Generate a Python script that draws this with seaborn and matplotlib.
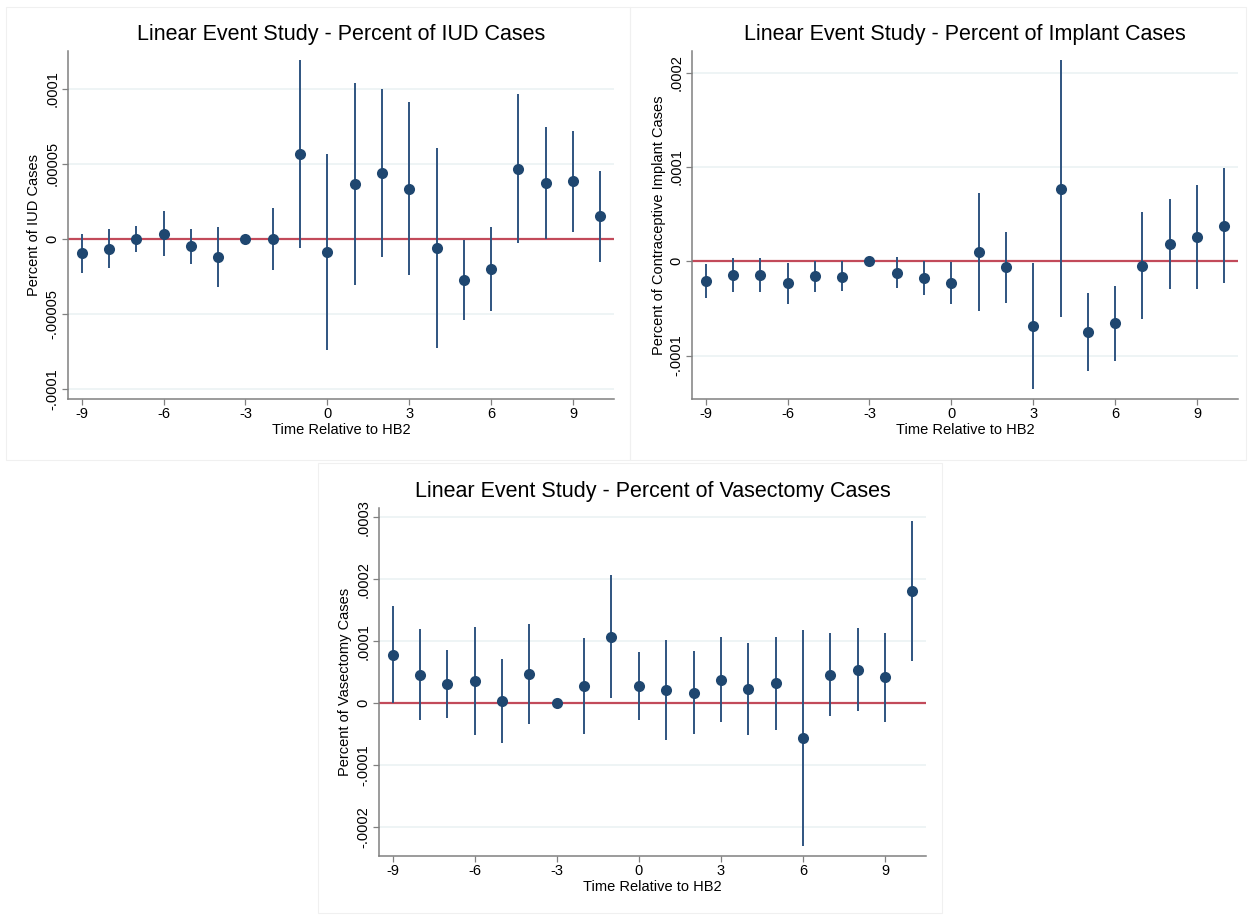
import numpy as np
import matplotlib
matplotlib.use("Agg")
import matplotlib.pyplot as plt
from matplotlib.patches import Rectangle
from matplotlib.ticker import FixedLocator, FuncFormatter
import seaborn as sns
import pandas as pd

sns.set_style("white")
plt.rcParams["font.family"] = ["Liberation Sans", "DejaVu Sans"]
plt.rcParams["axes.unicode_minus"] = False
plt.rcParams["text.color"] = "black"
plt.rcParams["axes.labelcolor"] = "black"
plt.rcParams["xtick.labelcolor"] = "black"
plt.rcParams["ytick.labelcolor"] = "black"

NAVY = "#1f4770"
CI_COL = "#2f5480"
ZERO_COL = "#c24a5a"
GRID_COL = "#eaf1f3"
AXIS_COL = "#808080"

# event time relative to HB2
event_time = list(range(-9, 11))

# values below are in units of 1e-6
iud_coef = [-9.8, -6.7, -0.4, 3.1, -5.1, -12.2, 0.0, -0.2, 56.4, -8.7,
            36.2, 43.6, 33.1, -6.0, -27.6, -20.2, 46.7, 37.1, 38.2, 14.9]
iud_lo = [-22.7, -19.8, -9.1, -11.6, -16.7, -31.8, 0.0, -20.9, -6.0, -74.0,
          -31.1, -12.4, -24.4, -72.7, -54.0, -48.4, -2.7, 0.0, 4.7, -15.3]
iud_hi = [2.9, 6.7, 8.2, 18.2, 6.2, 7.6, 0.0, 20.2, 118.7, 56.7,
          103.8, 99.6, 90.9, 60.4, -0.9, 7.8, 96.2, 74.7, 71.8, 45.3]

imp_coef = [-20.9, -14.9, -14.2, -23.4, -15.9, -16.3, 0.0, -12.0, -17.3, -22.7,
            10.3, -6.4, -68.7, 76.8, -75.0, -65.8, -5.0, 18.4, 25.8, 37.9]
imp_lo = [-39.3, -32.9, -32.6, -45.3, -32.2, -31.9, 0.0, -28.3, -35.4, -45.0,
          -52.4, -43.9, -135.2, -59.5, -116.5, -105.5, -61.6, -29.0, -29.0, -23.0]
imp_hi = [-2.5, 3.2, 3.5, -1.4, 0.0, 0.0, 0.0, 4.6, 0.3, -0.4,
          72.9, 31.2, -2.1, 213.1, -33.6, -26.5, 52.0, 65.8, 80.4, 98.8]

vas_coef = [78.0, 45.7, 30.1, 36.0, 3.8, 47.3, 0.0, 27.4, 107.0, 27.4,
            21.0, 16.1, 37.6, 22.0, 31.7, -57.0, 45.7, 53.8, 41.4, 180.6]
vas_lo = [0.0, -27.4, -24.7, -51.6, -65.1, -33.9, 0.0, -50.0, 8.1, -26.9,
          -59.7, -50.5, -31.2, -52.2, -43.0, -230.1, -21.0, -12.9, -30.1, 67.7]
vas_hi = [157.0, 119.4, 85.5, 123.1, 71.5, 128.0, 0.0, 104.3, 206.5, 81.7,
          101.6, 83.3, 107.0, 97.3, 106.5, 117.7, 112.4, 121.0, 113.4, 294.1]

UNIT = 1e-6

panels = [
    dict(title="Linear Event Study - Percent of IUD Cases",
         ylabel="Percent of IUD Cases",
         coef=iud_coef, lo=iud_lo, hi=iud_hi,
         yticks=[-0.0001, -0.00005, 0, 0.00005, 0.0001],
         ylim=(-106.7e-6, 125e-6),
         rect=[68, 51, 614, 399]),
    dict(title="Linear Event Study - Percent of Implant Cases",
         ylabel="Percent of Contraceptive Implant Cases",
         coef=imp_coef, lo=imp_lo, hi=imp_hi,
         yticks=[-0.0001, 0, 0.0001, 0.0002],
         ylim=(-146e-6, 223e-6),
         rect=[692, 51, 1238, 399]),
    dict(title="Linear Event Study - Percent of Vasectomy Cases",
         ylabel="Percent of Vasectomy Cases",
         coef=vas_coef, lo=vas_lo, hi=vas_hi,
         yticks=[-0.0002, -0.0001, 0, 0.0001, 0.0002, 0.0003],
         ylim=(-247e-6, 315e-6),
         rect=[379, 508, 926, 856]),
]

W, H = 1249, 916
fig = plt.figure(figsize=(W / 100, H / 100), dpi=100)
fig.patch.set_facecolor("white")

# faint frames around each sub-graph (graph combine look)
for x0, y0, x1, y1 in [(6, 7, 630, 460), (630, 7, 1246, 460), (318, 463, 942, 913)]:
    fig.add_artist(Rectangle((x0 / W, 1 - y1 / H), (x1 - x0) / W, (y1 - y0) / H,
                             transform=fig.transFigure, fill=False,
                             ec="#f0f0f0", lw=0.8))


def stata_fmt(v, pos=None):
    if abs(v) < 1e-12:
        return "0"
    s = f"{v:.5f}".rstrip("0")
    return s.replace("0.", ".", 1)


for p in panels:
    l, t, r, b = p["rect"]
    ax = fig.add_axes([l / W, 1 - b / H, (r - l) / W, (b - t) / H])
    df = pd.DataFrame({"t": event_time,
                       "coef": np.array(p["coef"]) * UNIT,
                       "lo": np.array(p["lo"]) * UNIT,
                       "hi": np.array(p["hi"]) * UNIT})

    for yv in p["yticks"]:
        ax.axhline(yv, color=GRID_COL, lw=1.1, zorder=0)
    ax.axhline(0, color=ZERO_COL, lw=1.6, zorder=1)
    ax.vlines(df["t"], df["lo"], df["hi"], color=CI_COL, lw=1.4, zorder=2)
    sns.scatterplot(data=df, x="t", y="coef", ax=ax, color=NAVY, s=64,
                    edgecolor=NAVY, linewidth=0, zorder=3, legend=False)

    ax.set_xlim(-9.5, 10.5)
    ax.set_ylim(*p["ylim"])
    ax.xaxis.set_major_locator(FixedLocator([-9, -6, -3, 0, 3, 6, 9]))
    ax.yaxis.set_major_locator(FixedLocator(p["yticks"]))
    ax.yaxis.set_major_formatter(FuncFormatter(stata_fmt))

    for side in ["top", "right"]:
        ax.spines[side].set_visible(False)
    for side in ["left", "bottom"]:
        ax.spines[side].set_color(AXIS_COL)
        ax.spines[side].set_linewidth(1.1)

    ax.tick_params(axis="both", direction="out", length=4, width=0.9,
                   color=AXIS_COL, labelsize=10.5, pad=2)
    ax.tick_params(axis="both", left=True, bottom=True)
    for lab in ax.get_yticklabels():
        lab.set_rotation(90)
        lab.set_va("center")

    ax.set_xlabel("Time Relative to HB2", fontsize=10.5, labelpad=1)
    ax.set_ylabel(p["ylabel"], fontsize=10.5, labelpad=3)
    ax.set_title(p["title"], fontsize=15.5, pad=8)

fig.savefig("out.png", dpi=100, facecolor="white")
